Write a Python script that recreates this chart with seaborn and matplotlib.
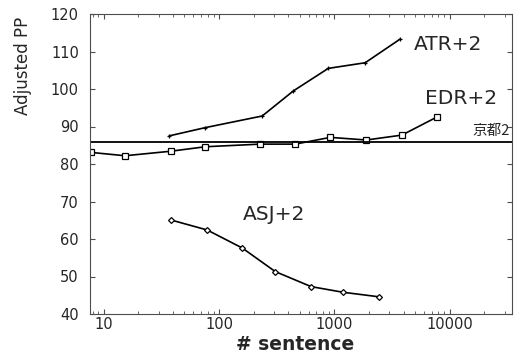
import matplotlib
matplotlib.use('Agg')
import pandas as pd
import matplotlib.pyplot as plt
import seaborn as sns

# ---------------------------------------------------------------------------
# DATA
# ---------------------------------------------------------------------------
atr_x = [37, 76, 237, 442, 887, 1854, 3720]
atr_y = [87.5, 89.7, 92.8, 99.5, 105.5, 107.0, 113.3]

edr_x = [7.7, 15.3, 38, 76, 228, 459, 922, 1892, 3853, 7740]
edr_y = [83.1, 82.2, 83.4, 84.6, 85.3, 85.3, 87.1, 86.4, 87.7, 92.5]

asj_x = [38, 79, 159, 308, 630, 1189, 2420]
asj_y = [65.1, 62.4, 57.6, 51.3, 47.3, 45.8, 44.6]

kyoto_pp = 86.0
kyoto_label = '京都2'

x_ticks = [10, 100, 1000, 10000]
x_ticklabels = ['10', '100', '1000', '10000']
y_ticks = [40, 50, 60, 70, 80, 90, 100, 110, 120]

df = pd.DataFrame({
    'sentences': atr_x + edr_x + asj_x,
    'pp': atr_y + edr_y + asj_y,
    'corpus': ['ATR+2'] * len(atr_x) + ['EDR+2'] * len(edr_x) + ['ASJ+2'] * len(asj_x),
})

# ---------------------------------------------------------------------------
# PLOT
# ---------------------------------------------------------------------------
sns.set_style('ticks')
plt.rcParams['font.family'] = ['DejaVu Sans', 'Noto Sans CJK JP']

fig = plt.figure(figsize=(5.14, 3.54), dpi=100)
ax = fig.add_axes([90 / 514, 1 - 314 / 354, 422 / 514, 300 / 354])

marker_style = {
    'ATR+2': dict(marker='+', markersize=3.5, markeredgewidth=0.9),
    'EDR+2': dict(marker='s', markersize=4, markeredgewidth=0.9),
    'ASJ+2': dict(marker='D', markersize=3, markeredgewidth=0.9),
}
for name, kw in marker_style.items():
    sns.lineplot(data=df[df['corpus'] == name], x='sentences', y='pp',
                 color='black', linewidth=1.2, markerfacecolor='white',
                 markeredgecolor='black', ax=ax, legend=False, **kw)

ax.axhline(kyoto_pp, color='black', linewidth=1.3)

ax.set_xscale('log')
ax.set_xlim(7.6, 34800)
ax.set_ylim(40, 120)
ax.set_xticks(x_ticks, labels=x_ticklabels)
ax.set_yticks(y_ticks)
ax.tick_params(which='both', direction='in', top=True, right=True,
               labelsize=10.5, color='0.3')
ax.tick_params(which='major', length=3.5, width=0.8)
ax.tick_params(which='minor', length=2, width=0.6)
ax.tick_params(axis='y', pad=8)
ax.tick_params(axis='x', pad=2)
for sp in ax.spines.values():
    sp.set_color('0.3')
    sp.set_linewidth(0.8)

ax.set_ylabel('Adjusted PP', fontsize=12)
ax.yaxis.set_label_coords(-0.137, 0.827)
ax.set_xlabel('# sentence', fontsize=13.5, fontweight='bold')
ax.xaxis.set_label_coords(0.486, -0.07)

ax.text(9700, 112, 'ATR+2', fontsize=14.5, ha='center', va='center')
ax.text(12600, 97.5, 'EDR+2', fontsize=14.5, ha='center', va='center')
ax.text(302, 66.6, 'ASJ+2', fontsize=14.5, ha='center', va='center')
ax.text(33000, 87, kyoto_label, fontsize=10.5, ha='right', va='bottom',
        family=['Noto Sans CJK JP', 'DejaVu Sans'])

plt.savefig('out.png', dpi=100)
